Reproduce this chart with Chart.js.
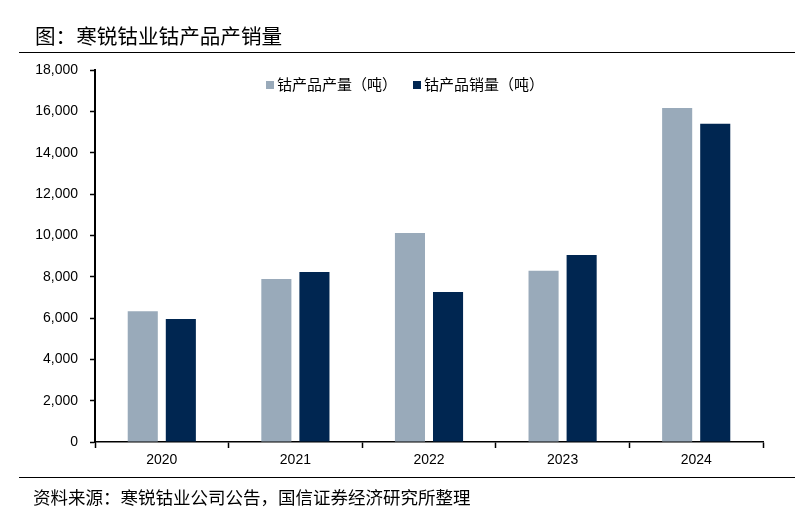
<!DOCTYPE html>
<html>
<head>
<meta charset="utf-8">
<script src="https://cdn.jsdelivr.net/npm/chart.js@4/dist/chart.umd.min.js"></script>
<style>
  html, body { margin: 0; padding: 0; background: #fff; }
  #wrap { position: relative; width: 795px; height: 527px; overflow: hidden; font-family: "Noto Sans CJK SC", "Liberation Sans", sans-serif; }
  #c { position: absolute; left: 0; top: 0; }
  .title { position: absolute; left: 35px; top: 20px; font-size: 20.6px; line-height: 30px; color: #000; white-space: nowrap; }
  .rule { position: absolute; left: 19px; right: 0; height: 1px; background: #000; }
  .footer { position: absolute; left: 33px; top: 483px; font-size: 17.5px; line-height: 28px; color: #000; white-space: nowrap; }
  .legend { position: absolute; top: 74px; font-size: 15px; line-height: 20px; color: #000; white-space: nowrap; }
  .legend span.box { display: inline-block; width: 8px; height: 8px; margin-right: 3px; vertical-align: 1px; }
</style>
</head>
<body>
<div id="wrap">
  <canvas id="c" width="795" height="527"></canvas>
  <div class="title">图：寒锐钴业钴产品产销量</div>
  <div class="rule" style="top:52px"></div>
  <div class="legend" id="lg1" style="left:266px"></div>
  <div class="legend" id="lg2" style="left:413px"></div>
  <div class="rule" style="top:477px"></div>
  <div class="footer">资料来源：寒锐钴业公司公告，国信证券经济研究所整理</div>
</div>
<script>
const categories = ["2020", "2021", "2022", "2023", "2024"];
const productionName = "钴产品产量（吨）";
const salesName = "钴产品销量（吨）";
const production = [6330, 7890, 10110, 8290, 16160];
const sales = [5950, 8230, 7260, 9050, 15400];
const yTicks = [0, 2000, 4000, 6000, 8000, 10000, 12000, 14000, 16000, 18000];

const lightColor = "#99AABA";
const darkColor = "#002651";

document.getElementById("lg1").innerHTML = '<span class="box" style="background:' + lightColor + '"></span>' + productionName;
document.getElementById("lg2").innerHTML = '<span class="box" style="background:' + darkColor + '"></span>' + salesName;

new Chart(document.getElementById("c"), {
  type: "bar",
  data: {
    labels: categories,
    datasets: [
      { label: productionName, data: production, backgroundColor: lightColor, categoryPercentage: 0.57, barPercentage: 0.79 },
      { label: salesName, data: sales, backgroundColor: darkColor, categoryPercentage: 0.57, barPercentage: 0.79 }
    ]
  },
  options: {
    responsive: false,
    animation: false,
    layout: { padding: { left: 0, right: 32, top: 70, bottom: 50 } },
    plugins: { legend: { display: false }, tooltip: { enabled: false }, title: { display: false } },
    scales: {
      x: {
        grid: { offset: true, drawOnChartArea: false, drawTicks: true, tickLength: 6, tickColor: "#000", tickWidth: 1.5 },
        border: { color: "#000", width: 1.5 },
        ticks: { color: "#000", font: { family: "Liberation Sans", size: 14 }, padding: 4 },
        afterFit: (s) => { s.height = 35; }
      },
      y: {
        min: 0, max: 18000,
        afterBuildTicks: (s) => { s.ticks = yTicks.map(v => ({ value: v })); },
        grid: { drawOnChartArea: false, drawTicks: true, tickLength: 5, tickColor: "#000", tickWidth: 1.5 },
        border: { color: "#000", width: 2 },
        ticks: { color: "#000", font: { family: "Liberation Sans", size: 14 }, padding: 12,
                 callback: (v) => Number(v).toLocaleString("en-US") },
        afterFit: (s) => { s.width = 95; }
      }
    }
  }
});
</script>
</body>
</html>
